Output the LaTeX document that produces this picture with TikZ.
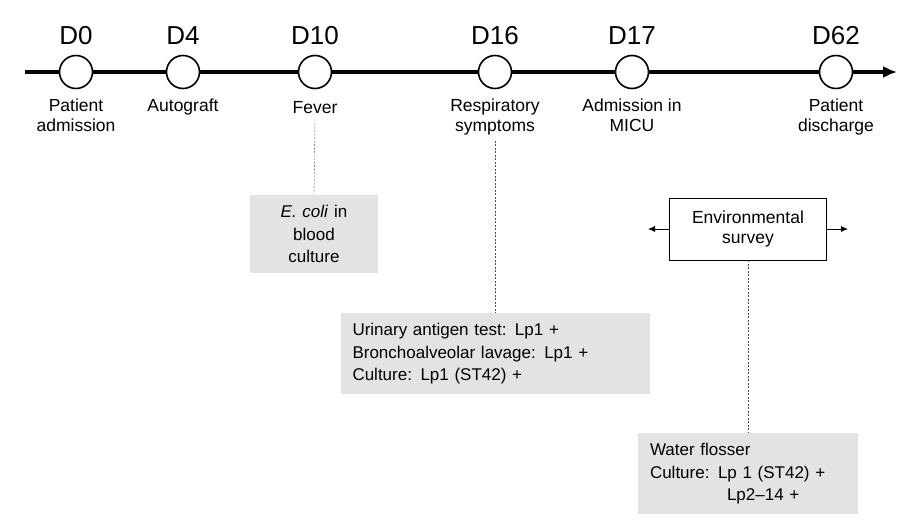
\documentclass[tikz,border=0pt]{standalone}
\usepackage{fontspec}
\setmainfont{Liberation Sans}
\usetikzlibrary{positioning}
\usetikzlibrary{arrows.meta}
\begin{document}
\begin{tikzpicture}[x=1pt, y=-1pt, font=\fontsize{17.5}{20}\selectfont,
    day/.style={circle, draw, line width=1.6pt, fill=white, minimum size=33pt, inner sep=0pt},
    daylbl/.style={font=\fontsize{26}{29}\selectfont, anchor=base},
    event/.style={align=center, anchor=north},
    finding/.style={fill=gray!22, align=left, anchor=north, inner xsep=12pt, inner ysep=10pt, font=\fontsize{17}{22.5}\selectfont},
    link/.style={dash pattern=on 2pt off 1.5pt, gray!60!black, thin}]
    \useasboundingbox (0,0) rectangle (900,530);
    \coordinate (start) at (25,72);
    \coordinate (stop) at (897,72);
    \draw[line width=4pt, -{Latex[length=14pt,width=12pt]}] (start) -- (stop);

    \node[day] (d0) at (76,72) {};
    \node[day] (d4) at (183,72) {};
    \node[day] (d10) at (315,72) {};
    \node[day] (d16) at (495,72) {};
    \node[day] (d17) at (632,72) {};
    \node[day] (d62) at (836,72) {};

    \foreach \n/\t in {d0/D0, d4/D4, d10/D10, d16/D16, d17/D17, d62/D62}
        \node[daylbl] at (\n |- 0,44) {\t};

    \node[event, below = 6pt of d0] (e0) {Patient\\admission};
    \node[event, below = 6pt of d4] (e4) {Autograft};
    \node[event, below = 9pt of d10] (e10) {Fever};
    \node[event, below = 6pt of d16] (e16) {Respiratory\\symptoms};
    \node[event, below = 6pt of d17] (e17) {Admission in\\MICU};
    \node[event, below = 6pt of d62] (e62) {Patient\\discharge};

    \node[finding, align=center, inner xsep=5pt, text width=118pt] (ecoli) at (314,195) {\textit{E. coli} in\\blood\\culture};
    \node[finding, text width=285pt] (urine) at (495,313) {Urinary antigen test: Lp1 +\\Bronchoalveolar lavage: Lp1 +\\Culture: Lp1 (ST42) +};
    \node[draw, thick, fill=white, align=center, minimum width=157pt, minimum height=62pt] (env) at (748,229) {Environmental\\survey};
    \node[finding, text width=196pt] (water) at (748,433) {Water flosser\\Culture: Lp 1 (ST42) +\\\hspace*{77pt}Lp2--14 +};

    \coordinate (envl) at (648,229);
    \coordinate (envr) at (848,229);
    \draw[thick, -{Latex[length=7pt,width=6pt]}] (env.west) -- (envl);
    \draw[thick, -{Latex[length=7pt,width=6pt]}] (env.east) -- (envr);

    \draw[link] (e10.south) ++(0,2) -- (ecoli.north);
    \draw[link] (e16.south) ++(0,2) -- (urine.north);
    \draw[link] (env.south) -- (water.north);
\end{tikzpicture}
\end{document}
